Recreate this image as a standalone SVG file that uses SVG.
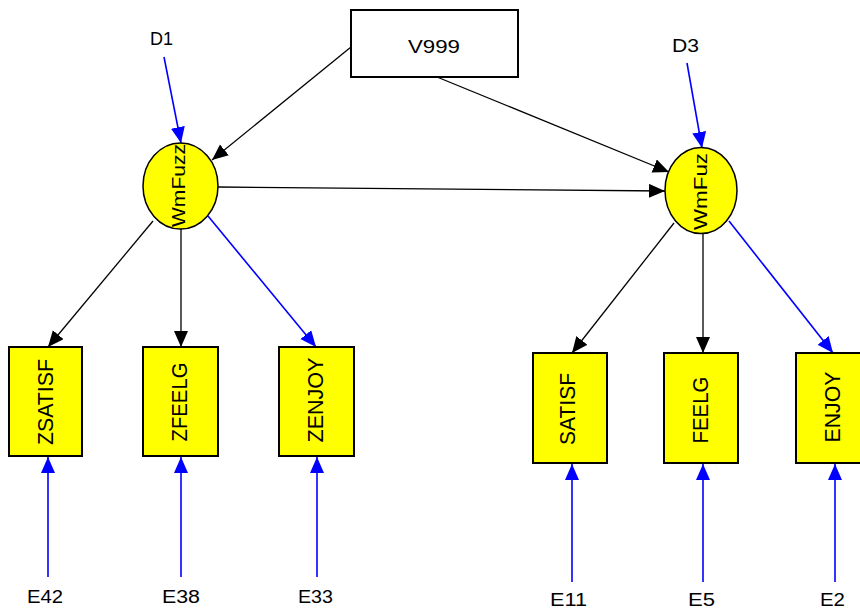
<svg xmlns="http://www.w3.org/2000/svg" width="860" height="609" viewBox="0 0 860 609">
<style>
text{font-family:"Liberation Sans",Arial,sans-serif;font-size:18px;fill:#000;lengthAdjust:spacingAndGlyphs}
.v{font-size:22px;text-anchor:middle}
.e{font-size:18px;text-anchor:middle}
.box{fill:#ffff00;stroke:#000;stroke-width:2}
.lat{fill:#ffff00;stroke:#000;stroke-width:1.5}
.k{stroke:#000;stroke-width:1.3;fill:none}
.b{stroke:#0000ff;stroke-width:1.6;fill:none}
</style>
<defs>
<marker id="ak" markerUnits="userSpaceOnUse" markerWidth="18" markerHeight="16" refX="16" refY="7" orient="auto"><path d="M0,0L16,7L0,14z" fill="#000"/></marker>
<marker id="ab" markerUnits="userSpaceOnUse" markerWidth="18" markerHeight="16" refX="16" refY="7" orient="auto"><path d="M0,0L16,7L0,14z" fill="#0000ff"/></marker>
</defs>
<rect width="860" height="609" fill="#fff"/>
<g id="connectors">
<line class="b" x1="164" y1="57" x2="181" y2="143" marker-end="url(#ab)"/>
<line class="b" x1="687" y1="63" x2="702" y2="148" marker-end="url(#ab)"/>
<line class="k" x1="351" y1="47" x2="212" y2="160" marker-end="url(#ak)"/>
<line class="k" x1="437" y1="77" x2="669" y2="172" marker-end="url(#ak)"/>
<line class="k" x1="218" y1="187" x2="665" y2="191" marker-end="url(#ak)"/>
<line class="k" x1="153" y1="221" x2="48" y2="347" marker-end="url(#ak)"/>
<line class="k" x1="181" y1="229" x2="181" y2="347" marker-end="url(#ak)"/>
<line class="b" x1="208" y1="216" x2="316" y2="347" marker-end="url(#ab)"/>
<line class="k" x1="674" y1="223" x2="572" y2="353" marker-end="url(#ak)"/>
<line class="k" x1="703" y1="233" x2="703" y2="353" marker-end="url(#ak)"/>
<line class="b" x1="729" y1="221" x2="833" y2="353" marker-end="url(#ab)"/>
<line class="b" x1="48" y1="577" x2="48" y2="457" marker-end="url(#ab)"/>
<line class="b" x1="181" y1="577" x2="181" y2="457" marker-end="url(#ab)"/>
<line class="b" x1="317" y1="577" x2="317" y2="457" marker-end="url(#ab)"/>
<line class="b" x1="572" y1="582" x2="572" y2="464" marker-end="url(#ab)"/>
<line class="b" x1="703" y1="582" x2="703" y2="464" marker-end="url(#ab)"/>
<line class="b" x1="835" y1="582" x2="835" y2="464" marker-end="url(#ab)"/>
</g>
<g id="V999"><rect x="351" y="10" width="167" height="67" fill="#fff" stroke="#000" stroke-width="2"/><text x="408" y="53" textLength="52" lengthAdjust="spacingAndGlyphs">V999</text></g>
<g id="WmFuzz1"><ellipse class="lat" cx="180.5" cy="186" rx="37.5" ry="43"/><text class="e" transform="translate(185,185.5) rotate(-90)" textLength="83" lengthAdjust="spacingAndGlyphs">WmFuzz</text></g>
<g id="WmFuzz2"><ellipse class="lat" cx="701" cy="190.5" rx="36" ry="43"/><text class="e" transform="translate(707,191.5) rotate(-90)" textLength="77" lengthAdjust="spacingAndGlyphs">WmFuz</text></g>
<g id="D1"><text x="150" y="45" textLength="23" lengthAdjust="spacingAndGlyphs">D1</text></g>
<g id="D3"><text x="672" y="52" textLength="27" lengthAdjust="spacingAndGlyphs">D3</text></g>
<g id="ZSATISF"><rect class="box" x="9" y="347" width="73" height="109"/><text class="v" transform="translate(53,402) rotate(-90)" textLength="86" lengthAdjust="spacingAndGlyphs">ZSATISF</text></g>
<g id="ZFEELG"><rect class="box" x="143" y="347" width="75" height="109"/><text class="v" transform="translate(187,402) rotate(-90)" textLength="79" lengthAdjust="spacingAndGlyphs">ZFEELG</text></g>
<g id="ZENJOY"><rect class="box" x="279" y="347" width="75" height="109"/><text class="v" transform="translate(323,400) rotate(-90)" textLength="85" lengthAdjust="spacingAndGlyphs">ZENJOY</text></g>
<g id="SATISF"><rect class="box" x="533" y="353" width="74" height="110"/><text class="v" transform="translate(575,409) rotate(-90)" textLength="72" lengthAdjust="spacingAndGlyphs">SATISF</text></g>
<g id="FEELG"><rect class="box" x="664" y="353" width="74" height="110"/><text class="v" transform="translate(708,410) rotate(-90)" textLength="67" lengthAdjust="spacingAndGlyphs">FEELG</text></g>
<g id="ENJOY"><rect class="box" x="796" y="353" width="74" height="110"/><text class="v" transform="translate(840,407) rotate(-90)" textLength="71" lengthAdjust="spacingAndGlyphs">ENJOY</text></g>
<g id="E42"><text x="27" y="603" textLength="36" lengthAdjust="spacingAndGlyphs">E42</text></g>
<g id="E38"><text x="162" y="603" textLength="38" lengthAdjust="spacingAndGlyphs">E38</text></g>
<g id="E33"><text x="298" y="603" textLength="35" lengthAdjust="spacingAndGlyphs">E33</text></g>
<g id="E11"><text x="550" y="606" textLength="37" lengthAdjust="spacingAndGlyphs">E11</text></g>
<g id="E5"><text x="688" y="606" textLength="27" lengthAdjust="spacingAndGlyphs">E5</text></g>
<g id="E2"><text x="820" y="606" textLength="25" lengthAdjust="spacingAndGlyphs">E2</text></g>
</svg>
